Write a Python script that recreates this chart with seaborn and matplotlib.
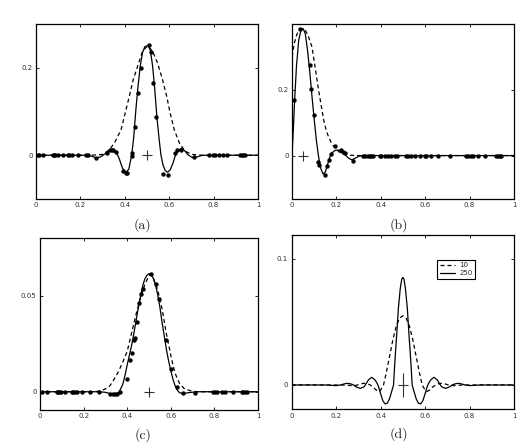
import numpy as np
import pandas as pd
import matplotlib
matplotlib.use("Agg")
import matplotlib.pyplot as plt
import seaborn as sns

# ---------------- data ----------------
x_ticks = [0, 0.2, 0.4, 0.6, 0.8, 1.0]
x_ticklabels = ["0", "0.2", "0.4", "0.6", "0.8", "1"]
captions = ["(a)", "(b)", "(c)", "(d)"]
legend_labels = ["10", "250"]

# panel (a)
a_solid_x = [0, 0.22, 0.25, 0.27, 0.29, 0.31, 0.33, 0.345, 0.36, 0.375, 0.39, 0.405, 0.418,
             0.431, 0.44, 0.45, 0.46, 0.47, 0.48, 0.49, 0.505, 0.515, 0.525, 0.535, 0.545,
             0.555, 0.563, 0.572, 0.582, 0.593, 0.605, 0.617, 0.628, 0.642, 0.656, 0.67,
             0.685, 0.70, 0.713, 0.73, 0.75, 1.0]
a_solid_y = [0, 0, -0.002, -0.006, -0.004, 0.003, 0.011, 0.0145, 0.009, -0.008, -0.03, -0.039, -0.032,
             0.0, 0.04, 0.105, 0.16, 0.205, 0.235, 0.248, 0.251, 0.24, 0.205, 0.15, 0.085,
             0.035, 0.0, -0.022, -0.035, -0.039, -0.033, -0.018, 0.0, 0.012, 0.016, 0.01,
             0.001, -0.004, -0.006, -0.003, 0, 0]
a_dash_x = [0, 0.25, 0.30, 0.33, 0.353, 0.37, 0.383, 0.402, 0.42, 0.438, 0.462, 0.48, 0.503,
            0.525, 0.548, 0.57, 0.589, 0.604, 0.623, 0.646, 0.67, 0.70, 0.75, 1.0]
a_dash_y = [0, 0, 0.002, 0.012, 0.028, 0.045, 0.058, 0.097, 0.134, 0.173, 0.21, 0.238, 0.25,
            0.238, 0.21, 0.173, 0.134, 0.097, 0.058, 0.028, 0.01, 0.002, 0, 0]
a_dots_x = [0.008, 0.015, 0.033, 0.075, 0.083, 0.087, 0.098, 0.12, 0.143, 0.15, 0.162, 0.188,
            0.225, 0.233, 0.27, 0.32, 0.333, 0.342, 0.348, 0.36, 0.39, 0.405, 0.41, 0.431,
            0.434, 0.444, 0.459, 0.472, 0.507, 0.517, 0.528, 0.541, 0.572, 0.596, 0.626,
            0.633, 0.655, 0.713, 0.78, 0.796, 0.808, 0.823, 0.841, 0.859, 0.919, 0.928,
            0.934, 0.943]
a_dots_y = [0, 0, 0, 0, 0, 0, 0, 0, 0, 0, 0, 0,
            0, 0, -0.006, 0.004, 0.012, 0.013, 0.013, 0.007, -0.035, -0.04, -0.04, 0.005,
            -0.001, 0.064, 0.143, 0.2, 0.251, 0.237, 0.166, 0.087, -0.042, -0.045, 0.004,
            0.011, 0.013, -0.005, 0, 0, 0, 0, 0, 0, 0, 0,
            0, 0]

# panel (b)
b_solid_x = [0, 0.006, 0.012, 0.02, 0.03, 0.04, 0.05, 0.06, 0.07, 0.08, 0.09, 0.10, 0.11,
             0.12, 0.13, 0.14, 0.15, 0.16, 0.17, 0.18, 0.195, 0.21, 0.225, 0.24, 0.255,
             0.27, 0.285, 0.30, 0.32, 1.0]
b_solid_y = [0, 0.08, 0.17, 0.27, 0.35, 0.38, 0.386, 0.37, 0.32, 0.255, 0.18, 0.11, 0.045,
             -0.005, -0.04, -0.056, -0.05, -0.028, -0.005, 0.008, 0.016, 0.017, 0.01, 0.002, -0.008,
             -0.013, -0.008, -0.002, 0, 0]
b_dash_x = [0, 0.01, 0.02, 0.03, 0.045, 0.055, 0.065, 0.075, 0.09, 0.105, 0.12, 0.132, 0.143,
            0.155, 0.165, 0.18, 0.19, 0.21, 0.23, 0.26, 0.3, 1.0]
b_dash_y = [0.30, 0.34, 0.365, 0.38, 0.386, 0.385, 0.375, 0.36, 0.33, 0.265, 0.198, 0.15, 0.107,
            0.075, 0.056, 0.035, 0.027, 0.012, 0.004, 0.001, 0, 0]
b_dots_x = [0.009, 0.035, 0.08, 0.087, 0.098, 0.117, 0.12, 0.147, 0.159, 0.167, 0.174, 0.195,
            0.219, 0.23, 0.237, 0.275, 0.32, 0.327, 0.342, 0.35, 0.357, 0.365, 0.395, 0.402,
            0.417, 0.432, 0.447, 0.462, 0.474, 0.515, 0.523, 0.538, 0.553, 0.575, 0.598,
            0.605, 0.628, 0.658, 0.71, 0.785, 0.793, 0.808, 0.815, 0.838, 0.868, 0.92,
            0.928, 0.935, 0.94]
b_dots_y = [0.17, 0.386, 0.276, 0.202, 0.124, -0.021, -0.03, -0.059, -0.031, -0.014, 0.004, 0.03,
            0.017, 0.012, 0.007, -0.016, 0, 0, 0, 0, 0, 0, 0, 0,
            0, 0, 0, 0, 0, 0, 0, 0, 0, 0, 0,
            0, 0, 0, 0, 0, 0, 0, 0, 0, 0, 0,
            0, 0, 0]

# panel (c)
c_solid_x = [0, 0.27, 0.30, 0.33, 0.345, 0.36, 0.37, 0.38, 0.39, 0.40, 0.41, 0.42, 0.43, 0.44,
             0.45, 0.46, 0.47, 0.48, 0.49, 0.50, 0.51, 0.52, 0.53, 0.54, 0.55, 0.56, 0.57,
             0.58, 0.59, 0.60, 0.61, 0.62, 0.63, 0.64, 0.657, 0.68, 0.72, 1.0]
c_solid_y = [0, 0, -0.0003, -0.0012, -0.0013, -0.0005, 0.0015, 0.004, 0.0085, 0.014, 0.019, 0.024,
             0.030, 0.0365, 0.043, 0.049, 0.0545, 0.0585, 0.0605, 0.0615, 0.061, 0.059, 0.0555,
             0.0505, 0.044, 0.036, 0.029, 0.022, 0.016, 0.011, 0.0065, 0.003, 0.0008, -0.0005,
             -0.001, -0.0005, 0, 0]
c_dash_x = [0, 0.25, 0.28, 0.30, 0.32, 0.34, 0.36, 0.38, 0.40, 0.42, 0.44, 0.46, 0.48, 0.50,
            0.51, 0.52, 0.54, 0.55, 0.56, 0.58, 0.60, 0.61, 0.62, 0.64, 0.66, 0.69, 0.72, 1.0]
c_dash_y = [0, 0, 0.0005, 0.0015, 0.003, 0.0065, 0.0105, 0.0155, 0.021, 0.0305, 0.040, 0.0485,
            0.0555, 0.0605, 0.061, 0.059, 0.053, 0.048, 0.043, 0.030, 0.019, 0.014, 0.0095,
            0.0043, 0.0018, 0.0005, 0, 0]
c_dots_x = [0.008, 0.031, 0.076, 0.084, 0.089, 0.095, 0.115, 0.145, 0.153, 0.161, 0.168, 0.191,
            0.229, 0.272, 0.321, 0.333, 0.344, 0.355, 0.367, 0.397, 0.413, 0.42, 0.433,
            0.436, 0.443, 0.456, 0.464, 0.471, 0.509, 0.531, 0.546, 0.578, 0.601, 0.63,
            0.657, 0.711, 0.795, 0.803, 0.81, 0.833, 0.849, 0.884, 0.925, 0.933, 0.94, 0.948]
c_dots_y = [0, 0, 0, 0, 0, 0, 0, 0, 0, 0, 0, 0,
            0, 0, -0.0012, -0.0014, -0.0014, -0.001, -0.0003, 0.0065, 0.0165, 0.02, 0.027,
            0.028, 0.0365, 0.0463, 0.051, 0.0536, 0.0613, 0.056, 0.048, 0.027, 0.012, 0.0026,
            -0.0005, -0.0005, 0, 0, 0, 0, 0, 0, 0, 0, 0, 0]

# panel (d)
d250_x = [0, 0.15, 0.18, 0.20, 0.22, 0.235, 0.248, 0.26, 0.275, 0.29, 0.308, 0.325, 0.335,
          0.345, 0.36, 0.375, 0.385, 0.39, 0.40, 0.41, 0.42, 0.43, 0.44, 0.45, 0.458, 0.465,
          0.472, 0.48, 0.488, 0.495, 0.50, 0.505, 0.512, 0.52, 0.528, 0.535, 0.542, 0.55,
          0.56, 0.57, 0.58, 0.59, 0.60, 0.61, 0.615, 0.625, 0.64, 0.655, 0.665, 0.675,
          0.692, 0.71, 0.725, 0.74, 0.752, 0.765, 0.78, 0.80, 0.82, 0.85, 1.0]
d250_y = [0, 0, -0.0003, -0.0005, 0.0, 0.0008, 0.0013, 0.0011, 0.0003, -0.0015, -0.0027,
          -0.0015, 0.001, 0.004, 0.0061, 0.004, 0.001, -0.001, -0.007, -0.0125, -0.015,
          -0.0145, -0.011, -0.005, 0.0, 0.021, 0.039, 0.061, 0.076, 0.084, 0.0854, 0.084,
          0.076, 0.061, 0.039, 0.021, 0.0, -0.005, -0.011, -0.0145, -0.015, -0.0125, -0.007,
          -0.001, 0.001, 0.004, 0.0061, 0.004, 0.001, -0.0015, -0.0027, -0.0015, 0.0003,
          0.0011, 0.0013, 0.0008, 0.0, -0.0005, -0.0003, 0, 0]
d10_x = [0, 0.22, 0.25, 0.27, 0.29, 0.305, 0.323, 0.335, 0.35, 0.365, 0.38, 0.393, 0.40,
         0.413, 0.425, 0.44, 0.455, 0.47, 0.485, 0.50, 0.515, 0.53, 0.545, 0.56, 0.575,
         0.587, 0.60, 0.607, 0.62, 0.635, 0.65, 0.665, 0.677, 0.695, 0.71, 0.73, 0.75, 0.78, 1.0]
d10_y = [0, 0, -0.0002, -0.0005, -0.0003, 0.0006, 0.0013, 0.0012, 0.0003, -0.0015, -0.004,
         -0.0053, -0.004, 0.0, 0.0093, 0.0225, 0.0358, 0.0464, 0.053, 0.0549, 0.053, 0.0464,
         0.0358, 0.0225, 0.0093, 0.0, -0.004, -0.0053, -0.004, -0.0015, 0.0003, 0.0012,
         0.0013, 0.0006, -0.0003, -0.0005, -0.0002, 0, 0]

# marker "+" locations (source positions)
plus_x = [0.5, 0.05, 0.5, 0.5]
plus_y = [0.0, 0.0, 0.0, 0.0]

y_limits = [(-0.1, 0.3), (-0.132, 0.4), (-0.0095, 0.08), (-0.0193, 0.119)]
y_ticks = [[0, 0.2], [0, 0.2], [0, 0.05], [0, 0.1]]
y_ticklabels = [["0", "0.2"], ["0", "0.2"], ["0", "0.05"], ["0", "0.1"]]

# ---------------- figure ----------------
sns.set_theme(style="ticks")
plt.rcParams["font.family"] = ["DejaVu Sans"]

W, H = 518, 444
fig = plt.figure(figsize=(W / 100, H / 100), dpi=100)
fig.patch.set_facecolor("white")

def px_axes(left, top, right, bottom):
    return fig.add_axes([left / W, 1 - bottom / H, (right - left) / W, (bottom - top) / H])

axes = [
    px_axes(36, 24, 258, 199),
    px_axes(292, 24, 514, 199),
    px_axes(40, 238, 258, 410),
    px_axes(291.7, 235, 514, 409.3),
]

LW = 0.9
DASH = (3.2, 2.4)

def line(ax, x, y, dashed=False, label=None):
    df = pd.DataFrame({"x": x, "y": y})
    sns.lineplot(data=df, x="x", y="y", ax=ax, color="black", linewidth=LW,
                 estimator=None, sort=False, label=label,
                 linestyle=(0, DASH) if dashed else "-")

def dots(ax, x, y):
    df = pd.DataFrame({"x": x, "y": y})
    sns.scatterplot(data=df, x="x", y="y", ax=ax, color="black", s=10, linewidth=0, zorder=5)

panels = [
    (a_solid_x, a_solid_y, a_dash_x, a_dash_y, a_dots_x, a_dots_y),
    (b_solid_x, b_solid_y, b_dash_x, b_dash_y, b_dots_x, b_dots_y),
    (c_solid_x, c_solid_y, c_dash_x, c_dash_y, c_dots_x, c_dots_y),
]
for ax, (sx, sy, dx, dy, px, py) in zip(axes[:3], panels):
    line(ax, dx, dy, dashed=True)
    line(ax, sx, sy)
    dots(ax, px, py)

ax = axes[3]
line(ax, d10_x, d10_y, dashed=True, label=legend_labels[0])
line(ax, d250_x, d250_y, label=legend_labels[1])

# "+" markers
for i, ax in enumerate(axes[:3]):
    sns.scatterplot(x=[plus_x[i]], y=[plus_y[i]], ax=ax, marker="+", s=45,
                    color="#333333", linewidth=0.8, zorder=6)
sns.scatterplot(x=[plus_x[3]], y=[plus_y[3]], ax=axes[3], marker="|", s=300,
                color="#333333", linewidth=0.8, zorder=6)
sns.scatterplot(x=[plus_x[3]], y=[plus_y[3]], ax=axes[3], marker="_", s=60,
                color="#333333", linewidth=0.8, zorder=6)

for i, ax in enumerate(axes):
    ax.set_xlim(0, 1)
    ax.set_ylim(*y_limits[i])
    ax.set_xticks(x_ticks)
    ax.set_xticklabels(x_ticklabels)
    ax.set_yticks(y_ticks[i])
    ax.set_yticklabels(y_ticklabels[i])
    ax.set_xlabel("")
    ax.set_ylabel("")
    ax.tick_params(direction="in", length=2.2, width=0.6, labelsize=5,
                   top=True, right=True, pad=2.5, colors="black", labelcolor="#333333")
    for sp in ax.spines.values():
        sp.set_visible(True)
        sp.set_linewidth(0.9)
        sp.set_color("black")
    ax.set_facecolor("white")
    if ax.get_legend() is not None and i < 3:
        ax.get_legend().remove()

leg = axes[3].legend(loc="upper right", bbox_to_anchor=((475 - 291.7) / 222.3, 1 - (260 - 235) / 174.3),
                     borderaxespad=0, fontsize=5, frameon=True, fancybox=False,
                     handlelength=2.2, handletextpad=0.6, borderpad=0.35, labelspacing=0.25)
leg.get_frame().set_edgecolor("black")
leg.get_frame().set_linewidth(0.8)
leg.get_frame().set_alpha(1)

cap_pos = [(142.5, 225), (399, 225), (143, 435), (399, 434.5)]
for (cx, cy), txt in zip(cap_pos, captions):
    fig.text(cx / W, 1 - cy / H, txt, ha="center", va="center", fontsize=10,
             family=["cmr10", "DejaVu Serif"], color="#222222")

fig.savefig("out.png", dpi=100, facecolor="white")
